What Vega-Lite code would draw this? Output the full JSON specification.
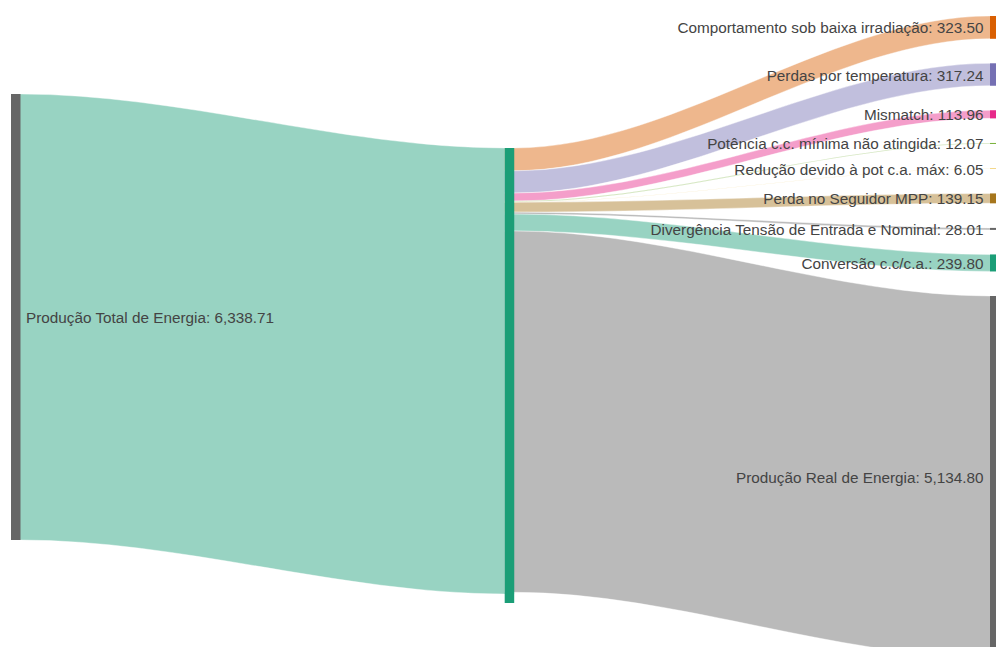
{
  "$schema": "https://vega.github.io/schema/vega-lite/v6.json",
  "width": 996,
  "height": 647,
  "autosize": {"type": "fit", "contains": "padding"},
  "padding": 0,
  "background": "white",
  "config": {"view": {"stroke": null}},
  "params": [
    {"name": "leftTop", "value": 1336},
    {"name": "midTop", "value": 2103},
    {"name": "rightTop", "value": 227},
    {"name": "pad", "value": 350},
    {"name": "colX", "value": [11, 504.7, 990]},
    {"name": "nodeW", "value": 9.5}
  ],
  "datasets": {
    "nodes": [
      {"name": "Produção Total de Energia", "value": 6338.71, "col": 0, "ord": 0},
      {"name": "mid", "value": 6466, "col": 1, "ord": 0},
      {"name": "Comportamento sob baixa irradiação", "value": 323.50, "col": 2, "ord": 1},
      {"name": "Perdas por temperatura", "value": 317.24, "col": 2, "ord": 2},
      {"name": "Mismatch", "value": 113.96, "col": 2, "ord": 3},
      {"name": "Potência c.c. mínima não atingida", "value": 12.07, "col": 2, "ord": 4},
      {"name": "Redução devido à pot c.a. máx", "value": 6.05, "col": 2, "ord": 5},
      {"name": "Perda no Seguidor MPP", "value": 139.15, "col": 2, "ord": 6},
      {"name": "Divergência Tensão de Entrada e Nominal", "value": 28.01, "col": 2, "ord": 7},
      {"name": "Conversão c.c/c.a.", "value": 239.80, "col": 2, "ord": 8},
      {"name": "Produção Real de Energia", "value": 5134.80, "col": 2, "ord": 9}
    ],
    "links": [
      {"source": "Produção Total de Energia", "target": "mid", "value": 6338.71, "ord": 0},
      {"source": "mid", "target": "Comportamento sob baixa irradiação", "value": 323.50, "ord": 1},
      {"source": "mid", "target": "Perdas por temperatura", "value": 317.24, "ord": 2},
      {"source": "mid", "target": "Mismatch", "value": 113.96, "ord": 3},
      {"source": "mid", "target": "Potência c.c. mínima não atingida", "value": 12.07, "ord": 4},
      {"source": "mid", "target": "Redução devido à pot c.a. máx", "value": 6.05, "ord": 5},
      {"source": "mid", "target": "Perda no Seguidor MPP", "value": 139.15, "ord": 6},
      {"source": "mid", "target": "Divergência Tensão de Entrada e Nominal", "value": 28.01, "ord": 7},
      {"source": "mid", "target": "Conversão c.c/c.a.", "value": 239.80, "ord": 8},
      {"source": "mid", "target": "Produção Real de Energia", "value": 5134.80, "ord": 9}
    ]
  },
  "layer": [
    {
      "data": {"name": "links"},
      "transform": [
        {"window": [{"op": "sum", "field": "value", "as": "cs"}, {"op": "row_number", "as": "rk"}], "groupby": ["source"], "sort": [{"field": "ord"}], "frame": [null, 0]},
        {"calculate": "datum.source === 'mid' ? midTop + datum.cs - datum.value : leftTop", "as": "sy"},
        {"calculate": "datum.source === 'mid' ? rightTop + datum.cs - datum.value + (datum.rk - 1) * pad : midTop", "as": "ty"},
        {"calculate": "datum.source === 'mid' ? 1 : 0", "as": "col"},
        {"calculate": "[0, 1, 2, 3]", "as": "edge"},
        {"flatten": ["edge"]},
        {"calculate": "(datum.edge < 2 ? colX[datum.col] : colX[datum.col + 1]) + (datum.edge % 2) * nodeW", "as": "px"},
        {"calculate": "datum.edge < 2 ? datum.sy : datum.ty", "as": "py"},
        {"calculate": "datum.py + datum.value", "as": "py2"}
      ],
      "mark": {"type": "area", "interpolate": "monotone", "fillOpacity": 0.45, "stroke": "white", "strokeWidth": 0.5, "strokeOpacity": 0.8, "clip": true},
      "encoding": {
        "x": {"field": "px", "type": "quantitative", "scale": {"domain": [0, 996], "nice": false, "zero": false}, "axis": null},
        "y": {"field": "py", "type": "quantitative", "stack": null, "scale": {"domain": [0, 9195], "nice": false, "zero": false, "reverse": true}, "axis": null},
        "y2": {"field": "py2"},
        "color": {
          "field": "target", "type": "nominal", "legend": null,
          "scale": {
            "domain": ["Produção Total de Energia", "mid", "Comportamento sob baixa irradiação", "Perdas por temperatura", "Mismatch", "Potência c.c. mínima não atingida", "Redução devido à pot c.a. máx", "Perda no Seguidor MPP", "Divergência Tensão de Entrada e Nominal", "Conversão c.c/c.a.", "Produção Real de Energia"],
            "range": ["#666666", "#1b9e77", "#d95f02", "#7570b3", "#e7298a", "#66a61e", "#e6ab02", "#a6761d", "#666666", "#1b9e77", "#666666"]
          }
        }
      }
    },
    {
      "data": {"name": "nodes"},
      "transform": [
        {"window": [{"op": "sum", "field": "value", "as": "cs"}, {"op": "row_number", "as": "rk"}], "groupby": ["col"], "sort": [{"field": "ord"}], "frame": [null, 0]},
        {"calculate": "datum.col === 0 ? leftTop : datum.col === 1 ? midTop : rightTop + datum.cs - datum.value + (datum.rk - 1) * pad", "as": "top"},
        {"calculate": "datum.top + datum.value", "as": "bot"},
        {"calculate": "colX[datum.col]", "as": "nx"},
        {"calculate": "colX[datum.col] + nodeW", "as": "nx2"}
      ],
      "mark": {"type": "rect", "opacity": 1, "clip": true},
      "encoding": {
        "x": {"field": "nx", "type": "quantitative", "scale": {"domain": [0, 996], "nice": false, "zero": false}, "axis": null},
        "x2": {"field": "nx2"},
        "y": {"field": "top", "type": "quantitative", "scale": {"domain": [0, 9195], "nice": false, "zero": false, "reverse": true}, "axis": null},
        "y2": {"field": "bot"},
        "color": {"field": "name", "type": "nominal", "legend": null}
      }
    },
    {
      "data": {"name": "nodes"},
      "transform": [
        {"filter": "datum.col === 0"},
        {"calculate": "leftTop + datum.value / 2", "as": "cy"},
        {"calculate": "colX[0] + nodeW + 5.5", "as": "tx"},
        {"calculate": "datum.name + ': ' + format(datum.value, ',.2f')", "as": "txt"}
      ],
      "mark": {"type": "text", "align": "left", "baseline": "middle", "dy": 1, "font": "Liberation Sans", "fontSize": 15.3, "color": "#444444", "clip": true},
      "encoding": {
        "x": {"field": "tx", "type": "quantitative", "scale": {"domain": [0, 996], "nice": false, "zero": false}, "axis": null},
        "y": {"field": "cy", "type": "quantitative", "scale": {"domain": [0, 9195], "nice": false, "zero": false, "reverse": true}, "axis": null},
        "text": {"field": "txt"}
      }
    },
    {
      "data": {"name": "nodes"},
      "transform": [
        {"filter": "datum.col === 2"},
        {"window": [{"op": "sum", "field": "value", "as": "cs"}, {"op": "row_number", "as": "rk"}], "sort": [{"field": "ord"}], "frame": [null, 0]},
        {"calculate": "rightTop + datum.cs - datum.value + (datum.rk - 1) * pad + datum.value / 2", "as": "cy"},
        {"calculate": "colX[2] - 6.5", "as": "tx"},
        {"calculate": "datum.name + ': ' + format(datum.value, ',.2f')", "as": "txt"}
      ],
      "mark": {"type": "text", "align": "right", "baseline": "middle", "dy": 1, "font": "Liberation Sans", "fontSize": 15.3, "color": "#444444", "clip": true},
      "encoding": {
        "x": {"field": "tx", "type": "quantitative", "scale": {"domain": [0, 996], "nice": false, "zero": false}, "axis": null},
        "y": {"field": "cy", "type": "quantitative", "scale": {"domain": [0, 9195], "nice": false, "zero": false, "reverse": true}, "axis": null},
        "text": {"field": "txt"}
      }
    }
  ]
}
